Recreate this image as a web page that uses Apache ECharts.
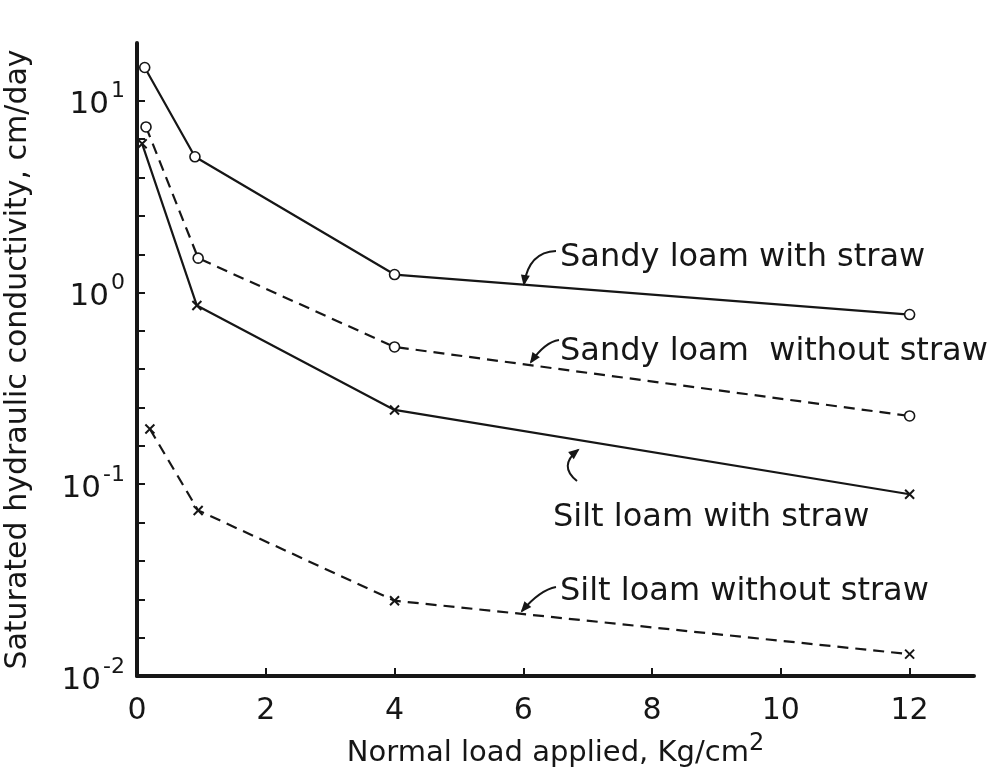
<!DOCTYPE html>
<html>
<head>
<meta charset="utf-8">
<script src="https://cdn.jsdelivr.net/npm/echarts@6/dist/echarts.min.js"></script>
<style>
html,body{margin:0;padding:0;background:#fff;}
#chart{width:989px;height:775px;}
</style>
</head>
<body>
<div id="chart"></div>
<script>
// ---- data ----
const sandyWithX = [0.12, 0.9, 4, 12];
const sandyWithY = [14.9, 5.1, 1.24, 0.767];
const sandyWithoutX = [0.14, 0.95, 4, 12];
const sandyWithoutY = [7.3, 1.51, 0.52, 0.227];
const siltWithX = [0.08, 0.93, 4, 12];
const siltWithY = [5.96, 0.855, 0.244, 0.0887];
const siltWithoutX = [0.2, 0.95, 4, 12];
const siltWithoutY = [0.194, 0.073, 0.0247, 0.013];

const xTickValues = [0, 2, 4, 6, 8, 10, 12];
const yLabelValues = [0.01, 0.1, 1, 10];
const yTickValues = [0.01, 0.0158, 0.0251, 0.0398, 0.0631, 0.1, 0.158, 0.251, 0.398, 0.631, 1, 1.58, 2.51, 3.98, 6.31, 10];

const seriesNames = ['Sandy loam with straw', 'Sandy loam without straw', 'Silt loam with straw', 'Silt loam without straw'];

const FONT = 'DejaVu Sans';
const INK = '#161616';
const crossPath = 'path://M0,0L10,10M10,0L0,10';

function pairs(xs, ys) { return xs.map((x, i) => [x, ys[i]]); }

function makeSeries(name, xs, ys, dashed, marker) {
  return {
    name: name,
    type: 'line',
    data: pairs(xs, ys),
    symbol: marker === 'o' ? 'circle' : crossPath,
    symbolSize: marker === 'o' ? 10 : 9,
    symbolKeepAspect: true,
    showAllSymbol: true,
    lineStyle: { color: INK, width: 2.2, type: dashed ? [11, 7] : 'solid' },
    itemStyle: marker === 'o'
      ? { color: '#fff', borderColor: INK, borderWidth: 1.6 }
      : { color: INK, borderColor: INK, borderWidth: 2 },
    emphasis: { disabled: true },
    animation: false,
    z: marker === 'o' ? 3 : 2
  };
}

// annotation arrows (quadratic curves with arrowheads)
const arrows = [
  { x1: 556, y1: 251, cx: 529, cy: 252, x2: 524, y2: 284 },
  { x1: 559, y1: 340, cx: 545, cy: 342, x2: 531, y2: 362 },
  { x1: 577, y1: 481, cx: 558, cy: 466, x2: 578, y2: 450 },
  { x1: 556, y1: 587, cx: 540, cy: 590, x2: 522, y2: 611 }
];
const annText = [
  { text: 'Sandy loam with straw', x: 560, y: 258 },
  { text: 'Sandy loam  without straw', x: 560, y: 352 },
  { text: 'Silt loam with straw', x: 553, y: 518 },
  { text: 'Silt loam without straw', x: 560, y: 592 }
];

const graphics = [];
arrows.forEach(a => {
  graphics.push({
    type: 'bezierCurve',
    shape: { x1: a.x1, y1: a.y1, x2: a.x2, y2: a.y2, cpx1: a.cx, cpy1: a.cy },
    style: { stroke: INK, lineWidth: 2, fill: null },
    silent: true
  });
  let dx = a.x2 - a.cx, dy = a.y2 - a.cy;
  const L = Math.sqrt(dx * dx + dy * dy);
  dx /= L; dy /= L;
  const tipX = a.x2 + dx * 2, tipY = a.y2 + dy * 2;
  const bx = tipX - dx * 11, by = tipY - dy * 11;
  const nx = -dy, ny = dx;
  graphics.push({
    type: 'polygon',
    shape: { points: [[tipX, tipY], [bx + nx * 4.5, by + ny * 4.5], [bx - nx * 4.5, by - ny * 4.5]] },
    style: { fill: INK },
    silent: true
  });
});
annText.forEach(t => {
  graphics.push({
    type: 'text',
    x: t.x, y: t.y,
    style: { text: t.text, font: '32px "' + FONT + '"', fill: INK, textAlign: 'left', textVerticalAlign: 'middle' },
    silent: true
  });
});

const chart = echarts.init(document.getElementById('chart'), null, { renderer: 'canvas' });
chart.setOption({
  backgroundColor: '#fff',
  animation: false,
  grid: { left: 137, right: 15, top: 43, bottom: 99, containLabel: false, outerBoundsMode: 'none' },
  xAxis: {
    type: 'value',
    min: 0, max: 13,
    name: '{a|Normal load applied, Kg/cm}{s|2}',
    nameLocation: 'middle',
    nameGap: 56,
    nameTextStyle: {
      rich: {
        a: { fontFamily: FONT, fontSize: 29, color: INK, lineHeight: 36, verticalAlign: 'bottom' },
        s: { fontFamily: FONT, fontSize: 24, color: INK, lineHeight: 36, verticalAlign: 'top' }
      }
    },
    axisLine: { show: true, onZero: false, lineStyle: { color: INK, width: 4 } },
    axisTick: { show: true, inside: true, length: 8, lineStyle: { color: INK, width: 2 }, customValues: xTickValues },
    axisLabel: { customValues: xTickValues, fontFamily: FONT, fontSize: 30, color: INK, margin: 20 },
    splitLine: { show: false }
  },
  yAxis: {
    type: 'log',
    logBase: 10,
    min: 0.01, max: 20,
    name: 'Saturated hydraulic conductivity, cm/day',
    nameLocation: 'middle',
    nameRotate: 90,
    nameGap: 104,
    nameTextStyle: { fontFamily: FONT, fontSize: 30, color: INK },
    axisLine: { show: true, lineStyle: { color: INK, width: 4 } },
    axisTick: { show: true, inside: true, length: 8, lineStyle: { color: INK, width: 2 }, customValues: yTickValues },
    axisLabel: {
      customValues: yLabelValues,
      margin: 12,
      formatter: function (v) {
        const e = Math.round(Math.log10(v));
        return '{b|10}{s|' + (e < 0 ? '-' + (-e) : e) + '}';
      },
      rich: {
        b: { fontFamily: FONT, fontSize: 31, color: INK, lineHeight: 40, verticalAlign: 'bottom' },
        s: { fontFamily: FONT, fontSize: 22, color: INK, lineHeight: 40, verticalAlign: 'top', padding: [0, 0, 0, 2] }
      }
    },
    splitLine: { show: false },
    minorTick: { show: false }
  },
  series: [
    makeSeries(seriesNames[0], sandyWithX, sandyWithY, false, 'o'),
    makeSeries(seriesNames[1], sandyWithoutX, sandyWithoutY, true, 'o'),
    makeSeries(seriesNames[2], siltWithX, siltWithY, false, 'x'),
    makeSeries(seriesNames[3], siltWithoutX, siltWithoutY, true, 'x')
  ],
  graphic: graphics
});
</script>
</body>
</html>
